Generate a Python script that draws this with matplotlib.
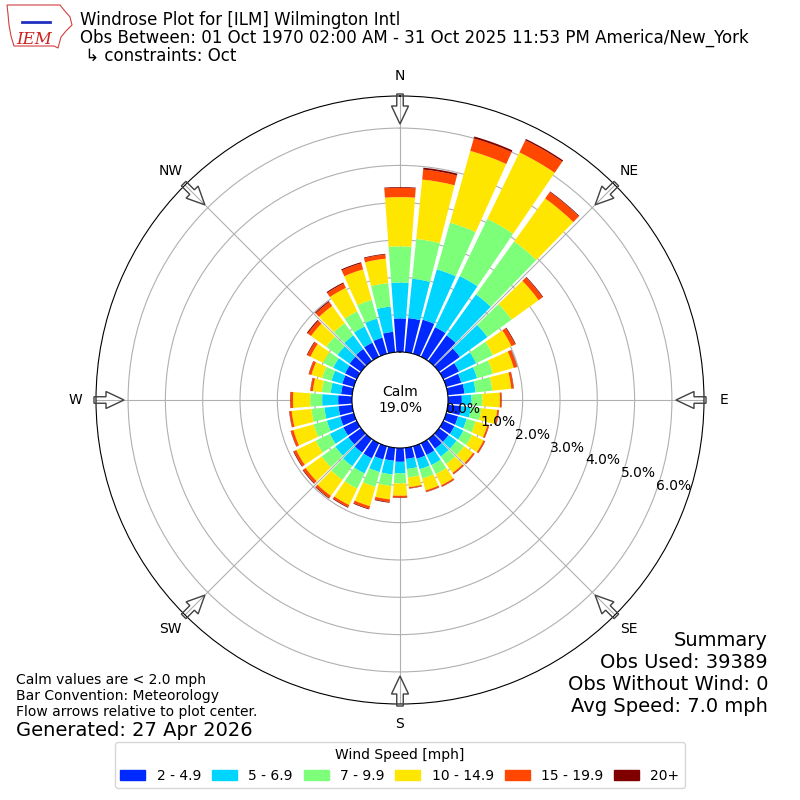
import matplotlib
matplotlib.use("Agg")
import matplotlib.pyplot as plt
from matplotlib.patches import FancyArrow, Patch, Polygon
from matplotlib.lines import Line2D
import numpy as np

# direction bins (deg, meteorological) and speed bins
directions = np.arange(0, 360, 10)
speed_labels = ["2 - 4.9", "5 - 6.9", "7 - 9.9", "10 - 14.9", "15 - 19.9", "20+"]

# percent of all obs per direction for each speed bin
spd_2_5 = [0.90, 0.92, 0.95, 0.88, 0.85, 0.69, 0.47, 0.42, 0.45, 0.37, 0.36, 0.33,
           0.33, 0.32, 0.32, 0.35, 0.35, 0.30, 0.37, 0.35, 0.37, 0.45, 0.45, 0.42,
           0.40, 0.38, 0.37, 0.37, 0.30, 0.32, 0.35, 0.38, 0.40, 0.42, 0.45, 0.55]
spd_5_7 = [0.96, 1.06, 1.40, 1.52, 1.35, 0.91, 0.51, 0.44, 0.30, 0.26, 0.26, 0.24,
           0.27, 0.26, 0.26, 0.30, 0.29, 0.27, 0.31, 0.37, 0.35, 0.45, 0.45, 0.43,
           0.40, 0.37, 0.38, 0.43, 0.28, 0.30, 0.35, 0.40, 0.45, 0.48, 0.53, 0.68]
spd_7_10 = [0.97, 1.07, 1.30, 1.70, 1.75, 0.80, 0.50, 0.44, 0.45, 0.29, 0.28, 0.25,
            0.26, 0.25, 0.25, 0.27, 0.26, 0.23, 0.27, 0.31, 0.41, 0.45, 0.45, 0.45,
            0.42, 0.37, 0.35, 0.32, 0.24, 0.26, 0.30, 0.37, 0.40, 0.45, 0.52, 0.63]
spd_10_15 = [1.32, 1.60, 2.00, 1.98, 1.42, 0.89, 0.55, 0.58, 0.51, 0.47, 0.43, 0.33,
             0.34, 0.30, 0.29, 0.33, 0.33, 0.26, 0.33, 0.36, 0.54, 0.49, 0.53, 0.53,
             0.58, 0.56, 0.53, 0.46, 0.24, 0.30, 0.38, 0.50, 0.57, 0.70, 0.85, 0.66]
spd_15_20 = [0.25, 0.27, 0.35, 0.36, 0.21, 0.13, 0.11, 0.09, 0.06, 0.04, 0.04, 0.04,
             0.04, 0.04, 0.04, 0.04, 0.04, 0.03, 0.05, 0.07, 0.07, 0.06, 0.07, 0.08,
             0.07, 0.07, 0.06, 0.07, 0.06, 0.07, 0.09, 0.11, 0.13, 0.13, 0.17, 0.11]
spd_20p = [0.02, 0.05, 0.05, 0.04, 0.02, 0.02, 0.02, 0.01, 0.01, 0.01, 0.01, 0.01,
           0.01, 0.01, 0.01, 0.01, 0.01, 0.01, 0.01, 0.02, 0.02, 0.02, 0.02, 0.02,
           0.02, 0.01, 0.01, 0.01, 0.01, 0.01, 0.02, 0.03, 0.03, 0.03, 0.03, 0.02]

calm_pct = 19.0
rticks = [0, 1, 2, 3, 4, 5, 6]
compass = ["N", "NE", "E", "SE", "S", "SW", "W", "NW"]

colors = plt.get_cmap("jet")(np.arange(1, 7) / 6.0)

fig = plt.figure(figsize=(8, 8), dpi=100)
ax = fig.add_axes([0.12, 0.12, 0.76, 0.76], projection="polar")
ax.set_theta_zero_location("N")
ax.set_theta_direction(-1)
ax.set_rorigin(-1.287)
ax.set_ylim(0, 6.86)
ax.set_axisbelow(True)

theta = np.deg2rad(directions)
base = np.zeros(len(directions))
for vals, c, lab in zip([spd_2_5, spd_5_7, spd_7_10, spd_10_15, spd_15_20, spd_20p],
                        colors, speed_labels):
    vals = np.array(vals)
    ax.bar(theta, vals, width=np.deg2rad(8.5), bottom=base, color=c,
           align="center", zorder=2, label=lab, linewidth=0)
    base = base + vals

ax.set_yticks(rticks)
ax.set_yticklabels([])
for v in rticks:
    ax.text(np.deg2rad(110), v, "%.1f%%" % v, ha="left", va="bottom", fontsize=10, zorder=5)

ax.set_xticks(np.deg2rad(np.arange(0, 360, 45)))
ax.set_xticklabels(compass, fontsize=10)
ax.tick_params(axis="x", pad=4)
ax.grid(color="#b0b0b0", linewidth=0.8)

# flow arrows round the edge (pointing to the centre)
for b in range(0, 360, 45):
    ux, uy = np.sin(np.deg2rad(b)), np.cos(np.deg2rad(b))
    arr = FancyArrow(0.5 + 306 / 800 * ux, 0.5 + 306 / 800 * uy,
                     -30 / 800 * ux, -30 / 800 * uy,
                     width=6.5 / 800, head_width=17 / 800, head_length=18 / 800,
                     length_includes_head=True, transform=fig.transFigure,
                     fc="none", ec="#404040", lw=1, zorder=10)
    fig.add_artist(arr)

fig.text(0.5, 0.5, "Calm\n%.1f%%" % calm_pct, ha="center", va="center", fontsize=10)

# header
fig.text(0.1, 1 - 20 / 800, "Windrose Plot for [ILM] Wilmington Intl", fontsize=12, va="center")
fig.text(0.1, 1 - 38 / 800,
         "Obs Between: 01 Oct 1970 02:00 AM - 31 Oct 2025 11:53 PM America/New_York",
         fontsize=12, va="center")
fig.text(0.1, 1 - 56 / 800, " \u21b3 constraints: Oct", fontsize=12, va="center")

# rough IEM logo
iowa = np.array([(7, 5), (60, 5), (64, 10), (70, 17), (72, 25), (66, 31), (61, 37),
                 (58, 48), (54, 46), (14, 46), (11, 36), (9, 25), (8, 14)])
fig.add_artist(Polygon(np.column_stack([iowa[:, 0] / 800, 1 - iowa[:, 1] / 800]),
                       closed=True, fc="none", ec="#d04040", lw=0.8,
                       transform=fig.transFigure))
fig.add_artist(Line2D([22 / 800, 50 / 800], [1 - 22 / 800, 1 - 22 / 800],
                      color="#2030c0", lw=2, transform=fig.transFigure))
fig.text(34 / 800, 1 - 39 / 800, "IEM", fontsize=12, color="#cc2222", style="italic",
         family="DejaVu Serif", ha="center", va="center")

# summary
summary = ["Summary", "Obs Used: 39389", "Obs Without Wind: 0", "Avg Speed: 7.0 mph"]
for i, s in enumerate(summary):
    fig.text(0.96, 1 - (640 + 22 * i) / 800, s, ha="right", va="center", fontsize=14)

notes = ["Calm values are < 2.0 mph", "Bar Convention: Meteorology",
         "Flow arrows relative to plot center."]
for i, s in enumerate(notes):
    fig.text(0.02, 1 - (680 + 16 * i) / 800, s, ha="left", va="center", fontsize=10)
fig.text(0.02, 1 - 730 / 800, "Generated: 27 Apr 2026", ha="left", va="center", fontsize=14)

handles = [Patch(color=c) for c in colors]
fig.legend(handles, speed_labels, loc="lower center", bbox_to_anchor=(0.5, 0.006),
           ncol=6, title="Wind Speed [mph]", fontsize=10, title_fontsize=10,
           handlelength=1.8, columnspacing=0.8, handletextpad=0.8)

fig.savefig("out.png", dpi=100)
